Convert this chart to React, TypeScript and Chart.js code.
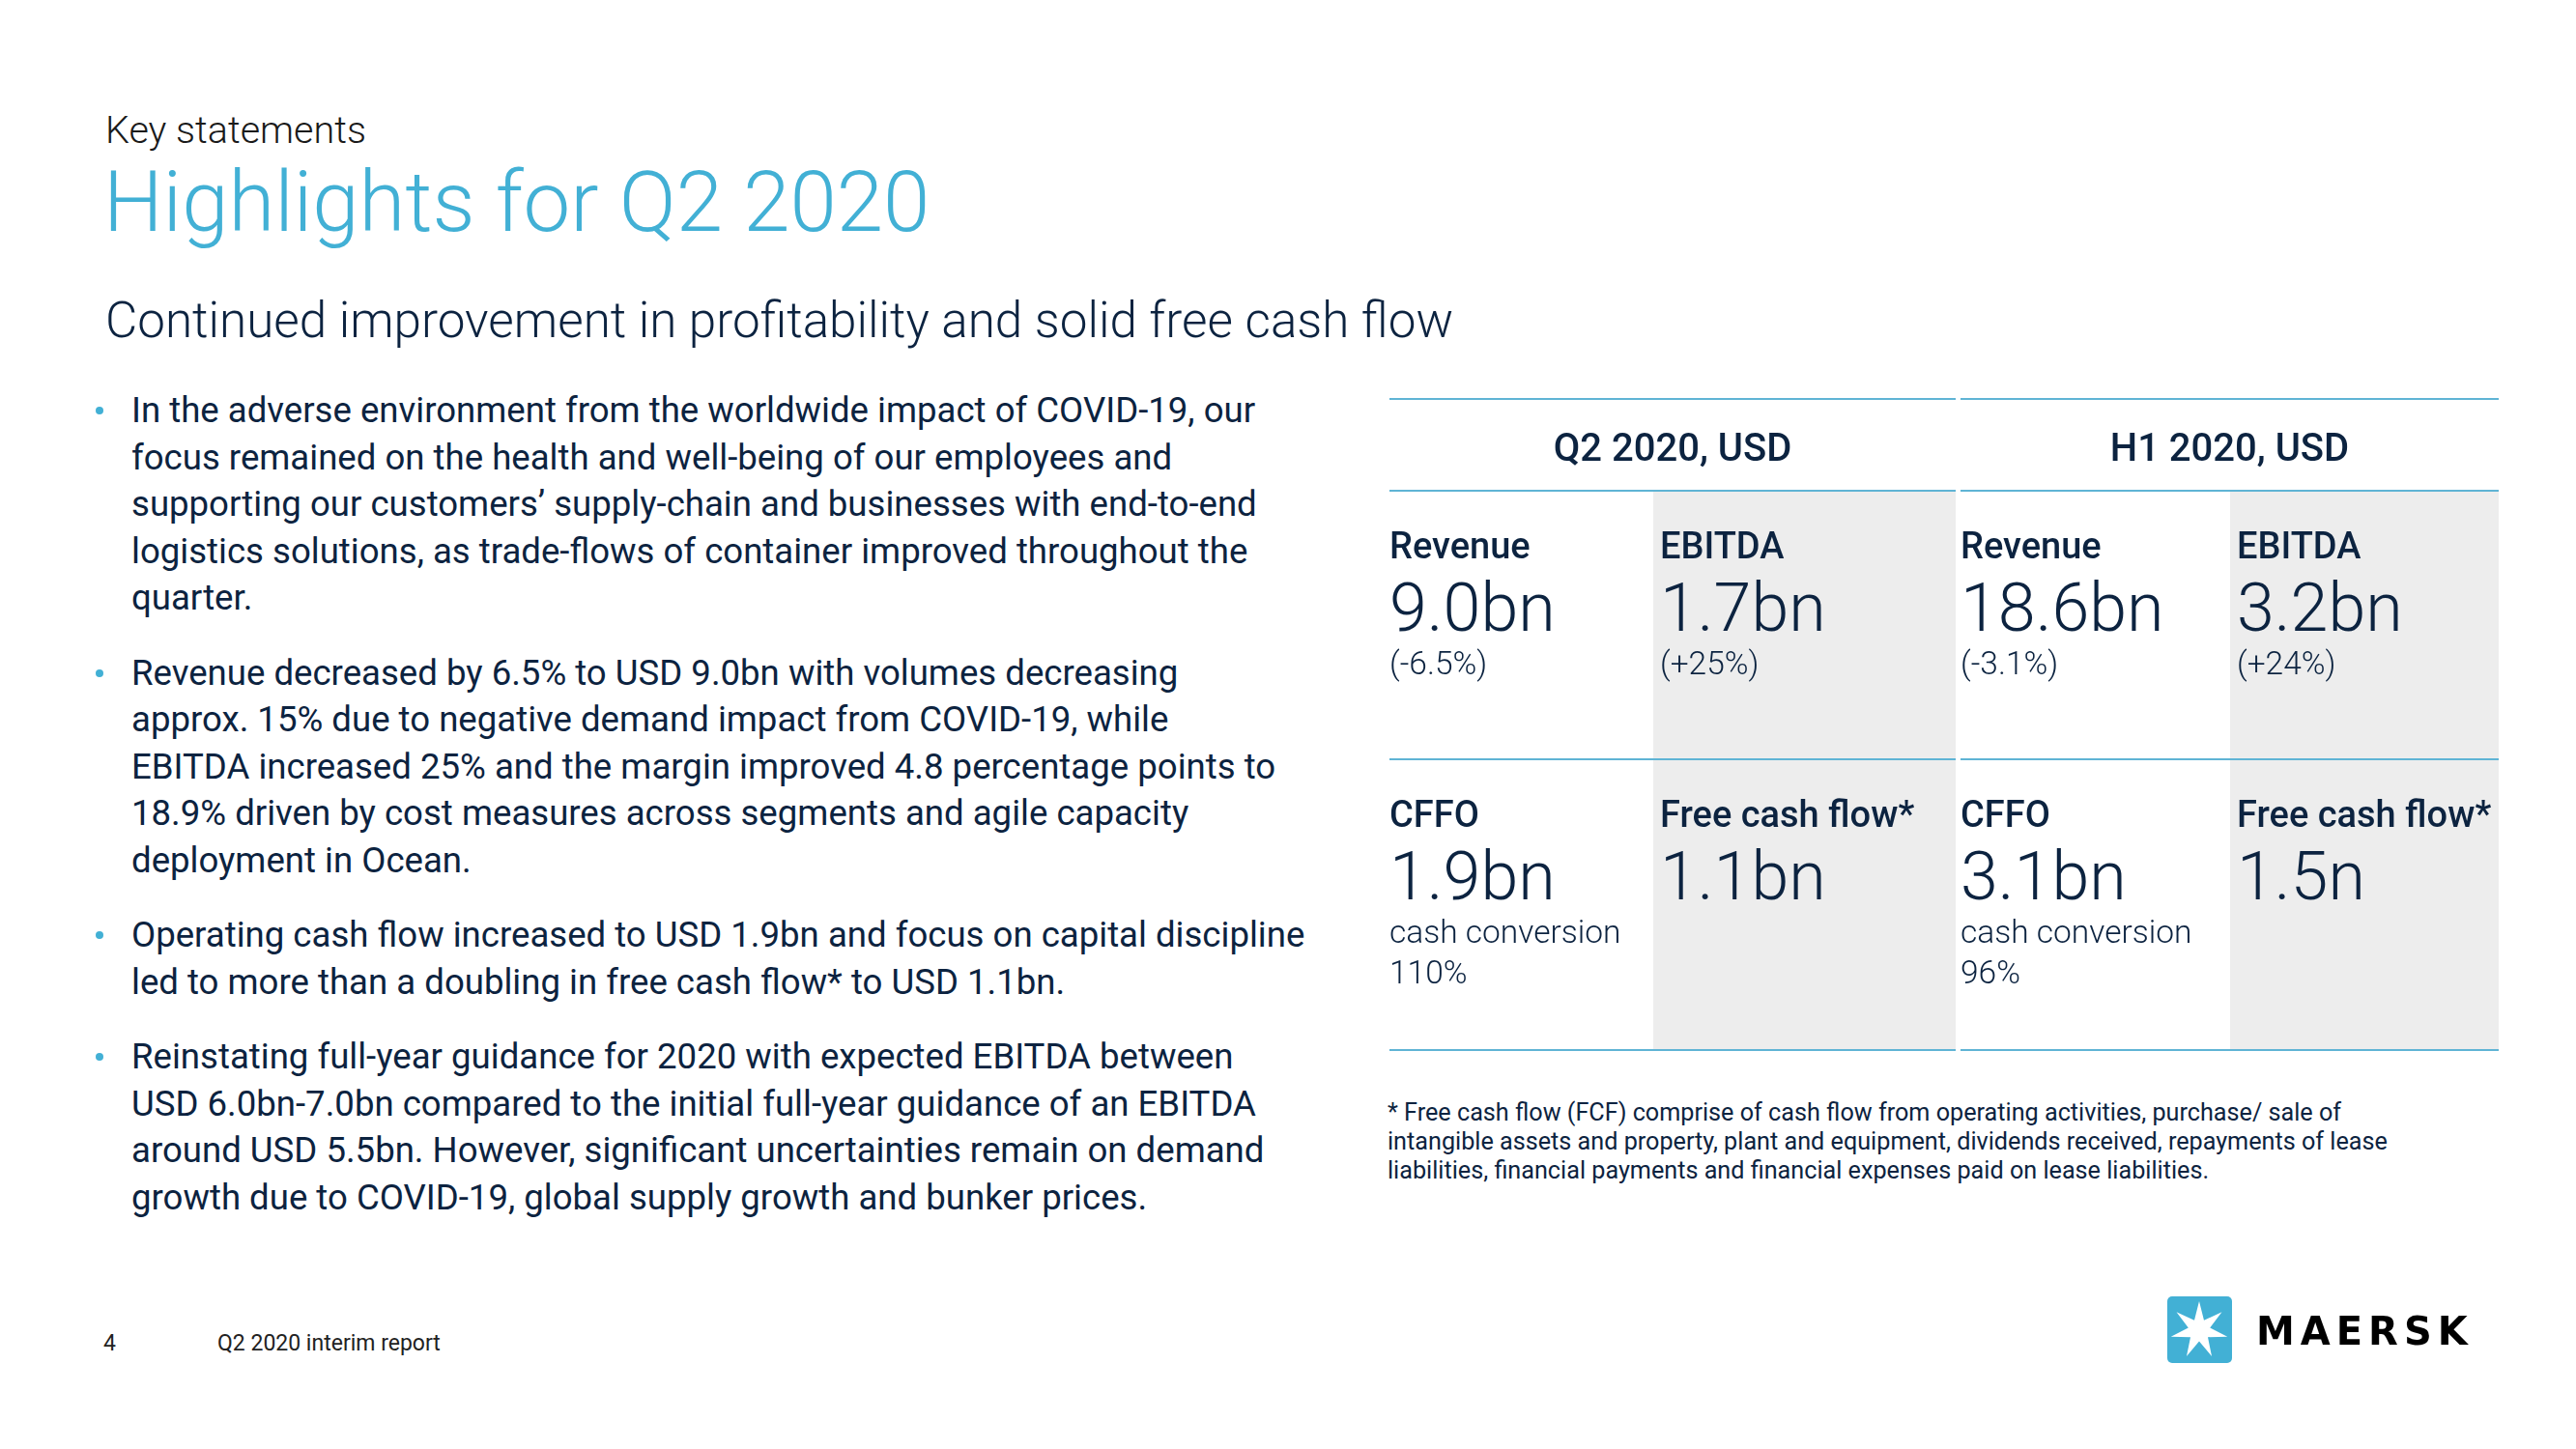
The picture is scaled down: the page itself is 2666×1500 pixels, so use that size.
import React, { useEffect, useRef } from "react";
import { Chart, registerables } from "chart.js";

Chart.register(...registerables);

// ---------- DATA ----------
const periods = ["Q2 2020, USD", "H1 2020, USD"];
const metricLabels = [
  ["Revenue", "EBITDA"],
  ["CFFO", "Free cash flow*"],
];
const q2Values = ["9.0bn", "1.7bn", "1.9bn", "1.1bn"];
const h1Values = ["18.6bn", "3.2bn", "3.1bn", "1.5n"];
const q2Notes = [["(-6.5%)"], ["(+25%)"], ["cash conversion", "110%"], []];
const h1Notes = [["(-3.1%)"], ["(+24%)"], ["cash conversion", "96%"], []];

const kicker = "Key statements";
const title = "Highlights for Q2 2020";
const subtitle = "Continued improvement in profitability and solid free cash flow";

const bullet1 = [
  "In the adverse environment from the worldwide impact of COVID-19, our",
  "focus remained on the health and well-being of our employees and",
  "supporting our customers’ supply-chain and businesses with end-to-end",
  "logistics solutions, as trade-flows of container improved throughout the",
  "quarter.",
];
const bullet2 = [
  "Revenue decreased by 6.5% to USD 9.0bn with volumes decreasing",
  "approx. 15% due to negative demand impact from COVID-19, while",
  "EBITDA increased 25% and the margin improved 4.8 percentage points to",
  "18.9% driven by cost measures across segments and agile capacity",
  "deployment in Ocean.",
];
const bullet3 = [
  "Operating cash flow increased to USD 1.9bn and focus on capital discipline",
  "led to more than a doubling in free cash flow* to USD 1.1bn.",
];
const bullet4 = [
  "Reinstating full-year guidance for 2020 with expected EBITDA between",
  "USD 6.0bn-7.0bn compared to the initial full-year guidance of an EBITDA",
  "around USD 5.5bn. However, significant uncertainties remain on demand",
  "growth due to COVID-19, global supply growth and bunker prices.",
];
const bullets = [bullet1, bullet2, bullet3, bullet4];

const footnote = [
  "* Free cash flow (FCF) comprise of cash flow from operating activities, purchase/ sale of",
  "intangible assets and property, plant and equipment, dividends received, repayments of lease",
  "liabilities, financial payments and financial expenses paid on lease liabilities.",
];
const pageNumber = "4";
const footerText = "Q2 2020 interim report";
const brand = "MAERSK";

// ---------- STYLE ----------
const NAVY = "#0C2340";
const BLUE = "#42B0D5";
const RULE = "#5FB4D5";
const SHADE = "#EDEDED";
const FONT = "Roboto, 'Noto Sans', sans-serif";

// canvas placement (page px)
const CV_LEFT = 1420;
const CV_TOP = 395;
const CV_W = 1180;
const CV_H = 720;

const blocks = [
  { x0: 1438, x1: 2024, split: 1711 },
  { x0: 2029, x1: 2586, split: 2308 },
];
const ruleYs = [413, 508, 786, 1087];
const rowTops = [508, 786];

const kpiPlugin = {
  id: "kpiTable",
  afterDraw(chart: any) {
    const ctx: CanvasRenderingContext2D = chart.ctx;
    const X = (v: number) => v - CV_LEFT;
    const Y = (v: number) => v - CV_TOP;
    ctx.save();
    // shaded columns
    ctx.fillStyle = SHADE;
    blocks.forEach((b) => {
      ctx.fillRect(X(b.split), Y(ruleYs[1]), b.x1 - b.split, ruleYs[3] - ruleYs[1]);
    });
    // rules
    ctx.fillStyle = RULE;
    blocks.forEach((b) => {
      ruleYs.forEach((y) => {
        ctx.fillRect(X(b.x0), Y(y) - 1, b.x1 - b.x0, 2);
      });
    });
    ctx.fillStyle = NAVY;
    ctx.textBaseline = "alphabetic";
    // headers
    ctx.font = `500 40px ${FONT}`;
    ctx.textAlign = "center";
    blocks.forEach((b, i) => {
      ctx.fillText(periods[i], X((b.x0 + b.x1) / 2), Y(477));
    });
    ctx.textAlign = "left";
    const allValues = [q2Values, h1Values];
    const allNotes = [q2Notes, h1Notes];
    blocks.forEach((b, bi) => {
      const cols = [b.x0, b.split + 7];
      rowTops.forEach((rt, ri) => {
        cols.forEach((cx, ci) => {
          const k = ri * 2 + ci;
          ctx.font = `500 38px ${FONT}`;
          ctx.fillText(metricLabels[ri][ci], X(cx), Y(rt + 70));
          ctx.font = `300 70px ${FONT}`;
          ctx.fillText(allValues[bi][k], X(cx), Y(rt + 145));
          ctx.font = `300 33.5px ${FONT}`;
          allNotes[bi][k].forEach((n, ni) => {
            ctx.fillText(n, X(cx), Y(rt + 190 + ni * 42));
          });
        });
      });
    });
    ctx.restore();
  },
};

function KpiTable() {
  const ref = useRef<HTMLCanvasElement | null>(null);
  useEffect(() => {
    if (!ref.current) return;
    const chart = new Chart(ref.current, {
      type: "bar",
      data: { labels: [], datasets: [] },
      options: {
        animation: false,
        responsive: false,
        devicePixelRatio: 1,
        events: [],
        layout: { padding: 0 },
        plugins: { legend: { display: false }, tooltip: { enabled: false } },
        scales: { x: { display: false }, y: { display: false } },
      },
      plugins: [kpiPlugin],
    });
    return () => chart.destroy();
  }, []);
  return (
    <canvas
      ref={ref}
      width={CV_W}
      height={CV_H}
      style={{ position: "absolute", left: CV_LEFT, top: CV_TOP, width: CV_W, height: CV_H }}
    />
  );
}

function T(props: {
  x: number;
  b: number;
  fs: number;
  w?: number;
  color?: string;
  family?: string;
  ls?: number;
  children: React.ReactNode;
}) {
  const { x, b, fs, w = 400, color = NAVY, family = FONT, ls = 0, children } = props;
  return (
    <div
      style={{
        position: "absolute",
        left: x,
        top: b - 0.842 * fs,
        fontSize: fs,
        lineHeight: `${fs}px`,
        fontWeight: w,
        color,
        fontFamily: family,
        whiteSpace: "nowrap",
        letterSpacing: ls,
      }}
    >
      {children}
    </div>
  );
}

function Logo() {
  const cx = 2276;
  const cy = 1377;
  const R = 30;
  const r = 11.5;
  const pts: string[] = [];
  for (let i = 0; i < 14; i++) {
    const a = -Math.PI / 2 + (i * Math.PI) / 7;
    const rad = i % 2 === 0 ? R : r;
    pts.push(`${(cx + rad * Math.cos(a)).toFixed(2)},${(cy + rad * Math.sin(a)).toFixed(2)}`);
  }
  return (
    <svg
      width={2666}
      height={1500}
      style={{ position: "absolute", left: 0, top: 0, pointerEvents: "none" }}
    >
      <rect x={2243} y={1342} width={67} height={69} rx={5} fill={BLUE} />
      <polygon points={pts.join(" ")} fill="#FFFFFF" />
    </svg>
  );
}

export default function App() {
  const lineStep = 48.5;
  const paraGap = 77.5;
  let base = 438;
  const bulletEls: React.ReactNode[] = [];
  bullets.forEach((para, pi) => {
    bulletEls.push(
      <div
        key={`dot${pi}`}
        style={{
          position: "absolute",
          left: 102.7 - 4,
          top: base - 13 - 4,
          width: 8,
          height: 8,
          borderRadius: 4,
          background: BLUE,
        }}
      />
    );
    para.forEach((line, li) => {
      bulletEls.push(
        <T key={`b${pi}-${li}`} x={136} b={base + li * lineStep} fs={36.6}>
          {line}
        </T>
      );
    });
    base = base + (para.length - 1) * lineStep + paraGap;
  });

  return (
    <div
      style={{
        position: "absolute",
        left: 0,
        top: 0,
        width: 2666,
        height: 1500,
        overflow: "hidden",
        background: "#FFFFFF",
      }}
    >
      <T x={109} b={148} fs={39.5} w={300} color="#1A1A1A">
        {kicker}
      </T>
      <T x={107} b={239} fs={87} w={300} color={BLUE}>
        {title}
      </T>
      <T x={109} b={349} fs={51.2} w={300}>
        {subtitle}
      </T>
      {bulletEls}
      <KpiTable />
      {footnote.map((l, i) => (
        <T key={`fn${i}`} x={1436} b={1160 + i * 30} fs={25.2}>
          {l}
        </T>
      ))}
      <T x={107} b={1398} fs={23} color="#222222">
        {pageNumber}
      </T>
      <T x={225} b={1398} fs={23} color="#222222">
        {footerText}
      </T>
      <Logo />
      <T x={2335} b={1392} fs={40} w={700} color="#000000" family="'DejaVu Sans', sans-serif" ls={6}>
        {brand}
      </T>
    </div>
  );
}
